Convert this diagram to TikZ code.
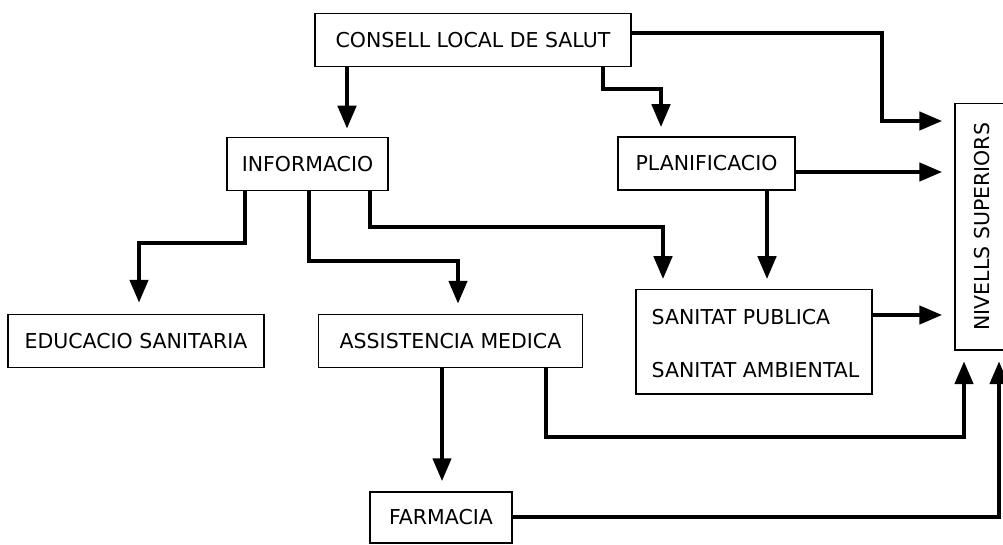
\documentclass[tikz,border=0pt]{standalone}
\usepackage{fontspec}
\setmainfont{DejaVu Sans}
\usetikzlibrary{arrows.meta}

\begin{document}
\begin{tikzpicture}[x=1pt, y=-1pt,
  box/.style={draw, line width=1.5pt, inner sep=0pt, font=\fontsize{20.5}{24}\selectfont},
  txt/.style={inner sep=0pt, font=\fontsize{20.5}{24}\selectfont},
  arr/.style={line width=4.5pt, -{Triangle[length=23pt,width=18pt]}}]
\useasboundingbox (0,0) rectangle (1003,545);
% Boxes
\node[box, minimum width=316, minimum height=53] (consell) at (473,40) {CONSELL LOCAL DE SALUT};
\node[box, minimum width=161, minimum height=53] (informacio) at (307.5,164) {INFORMACIO};
\node[box, minimum width=177, minimum height=53] (planificacio) at (706.5,163.5) {PLANIFICACIO};
\node[box, minimum width=256, minimum height=53] (educacio) at (136,341) {EDUCACIO SANITARIA};
\node[box, minimum width=264, minimum height=53] (assistencia) at (450.5,341) {ASSISTENCIA MEDICA};
\node[box, minimum width=236, minimum height=104.5] (sanitat) at (754,341.7) {};
\node[txt, anchor=west] (publica) at (651.5,316.7) {SANITAT PUBLICA};
\node[txt, anchor=west] (ambiental) at (651.5,370.3) {SANITAT AMBIENTAL};
\node[box, minimum width=142, minimum height=51] (farmacia) at (441,517.5) {FARMACIA};
\node[box, minimum width=54, minimum height=246.5] (nivells) at (982,226.7) {\rotatebox{90}{NIVELLS SUPERIORS}};
% Connectors
\draw[arr, shorten >=8pt] (347,0 |- consell.south) -- (347,0 |- informacio.north);
\draw[arr, shorten >=9pt] (603,0 |- consell.south) |- (661,89) -- (661,0 |- planificacio.north);
\draw[arr, shorten >=12pt] (consell.east |- 0,33) -| (882,121) -- (nivells.west |- 0,121);
\draw[arr, shorten >=12pt] (planificacio.east |- 0,172) -- (nivells.west |- 0,172);
\draw[arr, shorten >=9.5pt] (767,0 |- planificacio.south) -- (767,0 |- sanitat.north);
\draw[arr, shorten >=11pt] (245,0 |- informacio.south) |- (139,243) -- (139,0 |- educacio.north);
\draw[arr, shorten >=10pt] (309,0 |- informacio.south) |- (458,261) -- (458,0 |- assistencia.north);
\draw[arr, shorten >=9.5pt] (370,0 |- informacio.south) |- (663,227) -- (663,0 |- sanitat.north);
\draw[arr, shorten >=12pt] (sanitat.east |- 0,315) -- (nivells.west |- 0,315);
\draw[arr, shorten >=10pt] (442,0 |- assistencia.south) -- (442,0 |- farmacia.north);
\draw[arr, shorten >=10.5pt] (546,0 |- assistencia.south) |- (964,437) -- (964,0 |- nivells.south);
\draw[arr, shorten >=10.5pt] (farmacia.east |- 0,517) -| (999,0 |- nivells.south);
\end{tikzpicture}
\end{document}
